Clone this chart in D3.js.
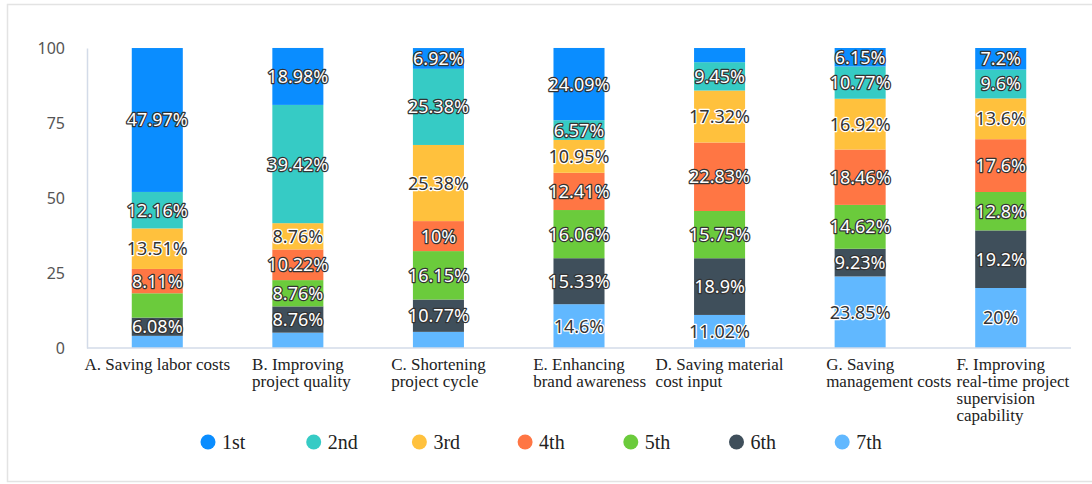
<!DOCTYPE html>
<html>
<head>
<meta charset="utf-8">
<script src="https://cdn.jsdelivr.net/npm/d3@7"></script>
<style>
  html, body { margin: 0; padding: 0; background: #fff; }
  svg { display: block; }
</style>
</head>
<body>
<svg id="chart" width="1092" height="484"></svg>
<script>
// Benefit categories (each entry is the lines of its axis label)
const categories = [
  ["A. Saving labor costs"],
  ["B. Improving", "project quality"],
  ["C. Shortening", "project cycle"],
  ["E. Enhancing", "brand awareness"],
  ["D. Saving material", "cost input"],
  ["G. Saving", "management costs"],
  ["F. Improving", "real-time project", "supervision", "capability"]
];

// Ranking levels
const ranks = ["1st", "2nd", "3rd", "4th", "5th", "6th", "7th"];

// Share of respondents (%) giving each rank, per category
const rank1 = [47.97, 18.98, 6.92, 24.09, 4.72, 6.15, 7.2];
const rank2 = [12.16, 39.42, 25.38, 6.57, 9.45, 10.77, 9.6];
const rank3 = [13.51, 8.76, 25.38, 10.95, 17.32, 16.92, 13.6];
const rank4 = [8.11, 10.22, 10, 12.41, 22.83, 18.46, 17.6];
const rank5 = [8.11, 8.76, 16.15, 16.06, 15.75, 14.62, 12.8];
const rank6 = [6.08, 8.76, 10.77, 15.33, 18.9, 9.23, 19.2];
const rank7 = [4.05, 5.11, 5.38, 14.6, 11.02, 23.85, 20];

const yTicks = [0, 25, 50, 75, 100];

const rankColors = ["#0a8dff", "#36cbc5", "#ffc13d", "#ff7644", "#6bcb3c", "#3f4f5b", "#61b8ff"];
const lightFill = new Set(["3rd", "7th"]); // segments that take dark label text

const seriesValues = [rank1, rank2, rank3, rank4, rank5, rank6, rank7];
const rows = categories.map((c, i) => {
  const row = { key: i };
  ranks.forEach((r, k) => { row[r] = seriesValues[k][i]; });
  return row;
});

const svg = d3.select("#chart");
const W = 1092, H = 484;
const margin = { left: 87, right: 21, top: 48, bottom: 136 };
const plotW = W - margin.left - margin.right;
const plotH = H - margin.top - margin.bottom;

// outer frame
svg.append("rect")
  .attr("x", 7.5).attr("y", 4.5)
  .attr("width", 1100).attr("height", 477)
  .attr("fill", "#fff").attr("stroke", "#e3e3e3").attr("stroke-width", 1.5);

const g = svg.append("g").attr("transform", `translate(${margin.left},${margin.top})`);

const x = d3.scaleBand().domain(d3.range(categories.length)).range([0, plotW]).paddingInner(0.637).paddingOuter(0.3185);
const y = d3.scaleLinear().domain([0, 100]).range([plotH, 0]);
const color = d3.scaleOrdinal().domain(ranks).range(rankColors);

// stack from the 7th rank at the bottom up to the 1st at the top
const stacked = d3.stack().keys(ranks.slice().reverse())(rows);

// y axis
const yAxis = g.append("g").call(d3.axisLeft(y).tickValues(yTicks).tickSize(0).tickPadding(22));
yAxis.select(".domain").attr("stroke", "#d3dbe8").attr("stroke-width", 1.5);
yAxis.selectAll("text")
  .attr("font-family", "Noto Sans, sans-serif").attr("font-size", 16).attr("fill", "#555");

// bars
const layers = g.selectAll("g.layer").data(stacked).join("g")
  .attr("class", "layer").attr("fill", d => color(d.key));
layers.selectAll("rect").data(d => d).join("rect")
  .attr("x", (d, i) => x(i))
  .attr("width", x.bandwidth())
  .attr("y", d => y(d[1]))
  .attr("height", d => y(d[0]) - y(d[1]));

// x axis line
g.append("line")
  .attr("x1", 0).attr("x2", plotW).attr("y1", plotH).attr("y2", plotH)
  .attr("stroke", "#d3dbe8").attr("stroke-width", 1.5);

// value labels: centred in each segment, skipping slivers and crowded ones
const labels = [];
categories.forEach((c, i) => {
  let lastY = null;
  stacked.forEach(layer => {
    const d = layer[i];
    const top = y(d[1]), bot = y(d[0]);
    const h = bot - top;
    const cy = (top + bot) / 2;
    if (h < 17) return;
    if (lastY !== null && lastY - cy < 22) return;
    lastY = cy;
    labels.push({ i, cy, rank: layer.key, value: d.data[layer.key] });
  });
});

g.selectAll("text.val").data(labels).join("text")
  .attr("class", "val")
  .attr("x", d => x(d.i) + x.bandwidth() / 2)
  .attr("y", d => d.cy)
  .attr("dy", "0.36em")
  .attr("text-anchor", "middle")
  .attr("font-family", "Noto Sans, sans-serif")
  .attr("font-size", 18)
  .attr("paint-order", "stroke")
  .attr("stroke-linejoin", "round")
  .attr("fill", d => lightFill.has(d.rank) ? "#333" : "#fff")
  .attr("stroke", d => lightFill.has(d.rank) ? "#fff" : "#333")
  .attr("stroke-width", 2.5)
  .text(d => d.value + "%");

// category labels: first line centred on the tick, later lines aligned to it
const catFont = "17px 'Liberation Serif', 'Times New Roman', serif";
const measure = document.createElement("canvas").getContext("2d");
measure.font = catFont;
const catG = g.append("g");
categories.forEach((lines, i) => {
  const cx = x(i) + x.bandwidth() / 2;
  const x0 = cx - measure.measureText(lines[0]).width / 2;
  const t = catG.append("text")
    .attr("font-family", "'Liberation Serif', 'Times New Roman', serif")
    .attr("font-size", 17).attr("fill", "#222");
  lines.forEach((ln, k) => {
    t.append("tspan").attr("x", x0).attr("y", plotH + 22 + k * 17).text(ln);
  });
});

// legend
const legend = svg.append("g").attr("transform", "translate(208,442)");
const item = legend.selectAll("g").data(ranks).join("g")
  .attr("transform", (d, i) => `translate(${i * 105.7},0)`);
item.append("circle").attr("r", 7.5).attr("fill", d => color(d));
item.append("text")
  .attr("x", 14).attr("y", 7)
  .attr("font-family", "'Liberation Serif', 'Times New Roman', serif")
  .attr("font-size", 20).attr("fill", "#222")
  .text(d => d);
</script>
</body>
</html>
